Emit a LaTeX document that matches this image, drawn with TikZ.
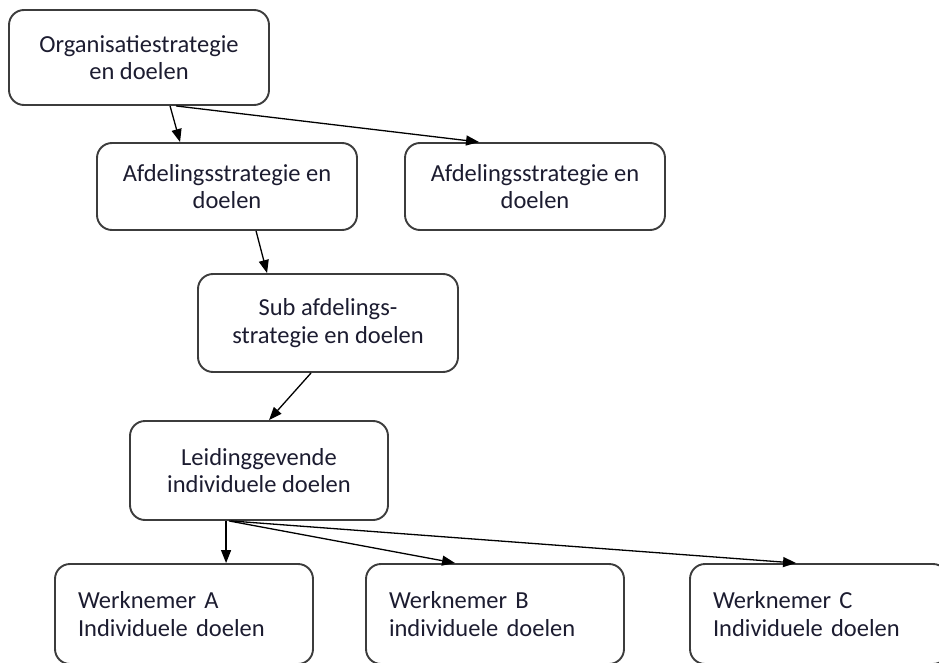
\documentclass[tikz,border=0pt]{standalone}
\usepackage{fontspec}
\setmainfont{Carlito}
\usetikzlibrary{arrows.meta,calc}
\definecolor{txt}{RGB}{28,28,48}
\definecolor{edge}{RGB}{60,60,60}
\begin{document}
\begin{tikzpicture}[x=1pt,y=-1pt,
  box/.style={draw=edge,line width=1.9pt,rounded corners=15pt,fill=white,
    font=\fontsize{24.5}{27.5}\selectfont,text=txt,inner sep=0pt},
  cbox/.style={box,align=center},
  lbox/.style={box,align=left,inner xsep=23pt,text width=212pt},
  link/.style={draw=black,line width=1.3pt,-{Triangle[length=13pt,width=10pt]}}]
\useasboundingbox[fill=white] (0,0) rectangle (939,663);

% strategy levels
\node[cbox,minimum width=260pt,minimum height=95pt] (org) at (139,57.5)
  {Organisatiestrategie\\en doelen};
\node[cbox,minimum width=260pt,minimum height=87pt] (afdA) at (227,186.5)
  {Afdelingsstrategie en\\doelen};
\node[cbox,minimum width=260pt,minimum height=87pt] (afdB) at (535,186.5)
  {Afdelingsstrategie en\\doelen};
\node[cbox,minimum width=260pt,minimum height=98pt] (sub) at (328,323)
  {Sub afdelings-\\strategie en doelen};
\node[cbox,minimum width=258pt,minimum height=99pt] (lead) at (259,470.5)
  {Leidinggevende\\individuele doelen};

% individual employees
\node[lbox,minimum height=100pt] (wA) at (184,614)
  {Werknemer A\\Individuele doelen};
\node[lbox,minimum height=100pt] (wB) at (495,614)
  {Werknemer B\\individuele doelen};
\node[lbox,minimum height=100pt] (wC) at (819,614)
  {Werknemer C\\Individuele doelen};

% cascade arrows
\draw[link] ($(org.south west)+(162,0)$) -- ($(afdA.north west)+(84,0)$);
\draw[link] ($(org.south west)+(168,0)$) -- ($(afdB.north west)+(75,0)$);
\draw[link] ($(afdA.south west)+(160,0)$) -- ($(sub.north west)+(70,0)$);
\draw[link] ($(sub.south west)+(114,0)$) -- ($(lead.north west)+(140,0)$);
\draw[link] ($(lead.south west)+(97,0)$) -- ($(wA.north west)+(172,0)$);
\draw[link] ($(lead.south west)+(100,0)$) -- ($(wB.north west)+(90,0)$);
\draw[link] ($(lead.south west)+(102,0)$) -- ($(wC.north west)+(107,0)$);
\end{tikzpicture}
\end{document}
